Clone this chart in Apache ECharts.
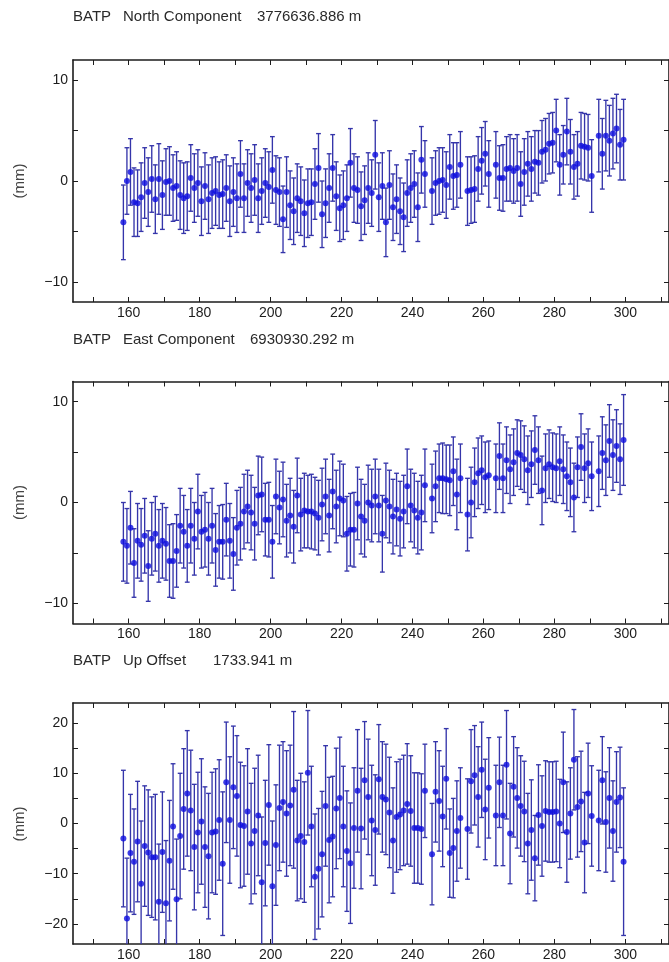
<!DOCTYPE html>
<html>
<head>
<meta charset="utf-8">
<title>BATP time series</title>
<script src="https://cdn.jsdelivr.net/npm/echarts@6.0.0/dist/echarts.min.js"></script>
<style>
  html, body { margin: 0; padding: 0; background: #fff; }
  #chart { width: 669px; height: 962px; }
</style>
</head>
<body>
<div id="chart"></div>
<script>
// day of year (solution epochs), gaps at 244.5, 254.5, 262.5, 291.5
const days = [
  158.5, 159.5, 160.5, 161.5, 162.5, 163.5, 164.5, 165.5, 166.5, 167.5,
  168.5, 169.5, 170.5, 171.5, 172.5, 173.5, 174.5, 175.5, 176.5, 177.5,
  178.5, 179.5, 180.5, 181.5, 182.5, 183.5, 184.5, 185.5, 186.5, 187.5,
  188.5, 189.5, 190.5, 191.5, 192.5, 193.5, 194.5, 195.5, 196.5, 197.5,
  198.5, 199.5, 200.5, 201.5, 202.5, 203.5, 204.5, 205.5, 206.5, 207.5,
  208.5, 209.5, 210.5, 211.5, 212.5, 213.5, 214.5, 215.5, 216.5, 217.5,
  218.5, 219.5, 220.5, 221.5, 222.5, 223.5, 224.5, 225.5, 226.5, 227.5,
  228.5, 229.5, 230.5, 231.5, 232.5, 233.5, 234.5, 235.5, 236.5, 237.5,
  238.5, 239.5, 240.5, 241.5, 242.5, 243.5,
  245.5, 246.5, 247.5, 248.5, 249.5, 250.5, 251.5, 252.5, 253.5,
  255.5, 256.5, 257.5, 258.5, 259.5, 260.5, 261.5,
  263.5, 264.5, 265.5, 266.5, 267.5, 268.5, 269.5, 270.5, 271.5, 272.5,
  273.5, 274.5, 275.5, 276.5, 277.5, 278.5, 279.5, 280.5, 281.5, 282.5,
  283.5, 284.5, 285.5, 286.5, 287.5, 288.5, 289.5, 290.5,
  292.5, 293.5, 294.5, 295.5, 296.5, 297.5, 298.5, 299.5
];

// North component (mm)
const northVal = [
  -4.1, 0.0, 0.9, -2.1, -2.2, -1.6, -0.2, -1.1, 0.2, -1.8,
  0.2, -1.4, -0.1, 0.0, -0.7, -0.5, -1.4, -1.7, -1.5, 0.3,
  -0.7, -0.2, -2.0, -0.5, -1.8, -1.2, -1.0, -1.4, -1.3, -0.7,
  -2.0, -1.1, -1.7, 0.7, -1.7, -0.2, -0.7, 0.1, -1.7, -1.0,
  -0.2, -0.6, 1.1, -0.9, -1.1, -3.8, -1.1, -2.4, -3.0, -1.7,
  -2.0, -3.2, -2.2, -2.1, -0.3, 1.3, -3.3, -2.2, -0.7, 1.3,
  -1.5, -2.7, -2.4, -1.7, 1.8, -0.7, -0.9, -2.5, -1.9, -0.7,
  -1.2, 2.6, -1.6, -0.5, -4.1, -0.4, -2.6, -1.8, -3.0, -3.6,
  -1.2, -0.7, -0.3, -2.6, 2.1, 0.7,
  -1.0, -0.2, 0.0, 0.1, -0.4, 1.4, 0.5, 0.6, 1.6,
  -1.0, -0.9, -0.8, 1.2, 2.0, 2.7, 0.7,
  1.6, 0.3, 0.3, 1.2, 1.3, 1.0, 1.3, -0.3, 0.9, 1.7,
  1.2, 1.9, 1.8, 2.9, 3.1, 3.7, 3.8, 5.0, 1.6, 2.6,
  4.9, 2.9, 1.4, 1.7, 3.5, 3.4, 3.3, 0.5,
  4.5, 2.7, 4.5, 4.0, 4.7, 5.2, 3.6, 4.1
];
const northSig = [
  3.7, 3.3, 3.3, 3.4, 3.3, 3.4, 3.5, 3.4, 3.3, 3.4,
  3.5, 3.4, 3.3, 3.4, 3.3, 3.4, 3.4, 3.5, 3.4, 3.3,
  3.4, 3.3, 3.4, 3.3, 3.4, 3.5, 3.4, 3.3, 3.4, 3.3,
  3.5, 3.4, 3.4, 3.3, 3.4, 3.3, 3.4, 3.5, 3.4, 3.3,
  3.4, 3.5, 3.3, 3.4, 3.4, 3.3, 3.5, 3.4, 3.3, 3.4,
  3.4, 3.3, 3.4, 3.3, 3.5, 3.4, 3.3, 3.4, 3.4, 3.3,
  3.4, 3.3, 3.4, 3.3, 3.4, 3.4, 3.3, 3.4, 3.4, 3.5,
  3.3, 3.4, 3.4, 3.3, 3.4, 3.4, 3.3, 3.4, 3.3, 3.4,
  3.3, 3.4, 3.3, 3.4, 3.3, 3.3,
  3.3, 3.2, 3.3, 3.2, 3.3, 3.2, 3.3, 3.2, 3.3,
  3.4, 3.3, 3.3, 3.2, 3.3, 3.2, 3.3,
  3.3, 3.2, 3.3, 3.2, 3.3, 3.2, 3.3, 3.2, 3.3, 3.2,
  3.2, 3.1, 3.2, 3.1, 3.1, 3.0, 3.0, 3.1, 3.0, 2.9,
  3.3, 3.2, 3.2, 3.2, 3.3, 3.3, 3.3, 3.6,
  3.6, 3.5, 3.5, 3.5, 3.5, 3.4, 3.5, 4.0
];

// East component (mm)
const eastVal = [
  -3.9, -4.3, -2.5, -6.0, -3.8, -4.2, -3.3, -6.3, -3.6, -3.1,
  -4.3, -3.8, -4.1, -5.8, -5.8, -4.8, -2.3, -2.9, -4.3, -2.3,
  -3.6, -0.9, -2.9, -2.7, -3.6, -2.3, -4.7, -3.9, -3.9, -1.7,
  -3.8, -5.1, -2.5, -2.1, -0.9, -0.4, -1.0, -2.1, 0.7, 0.8,
  -1.7, -1.7, -3.9, 0.6, -0.5, 0.3, -1.8, -1.3, -2.4, 0.7,
  -1.2, -0.8, -0.9, -0.9, -1.1, -1.5, -0.2, 0.6, -1.3, 1.1,
  -0.4, 0.4, 0.2, -3.1, -2.7, -2.7, -0.1, -1.4, -1.8, 0.0,
  -0.3, 0.6, -0.3, -3.1, 0.2, -0.4, -1.4, -0.7, -1.6, -0.9,
  1.6, -0.3, -0.8, -1.5, -1.0, 1.7,
  0.4, 1.6, 2.4, 2.4, 2.3, 2.2, 3.1, 0.8, 2.4,
  -1.2, 0.0, 2.0, 2.9, 3.2, 2.5, 2.7,
  2.4, 4.6, 2.4, 4.2, 3.3, 4.0, 4.9, 4.7, 4.3, 3.2,
  3.8, 5.2, 4.2, 1.2, 3.4, 3.8, 3.5, 3.4, 4.1, 3.3,
  2.6, 2.0, 0.5, 3.5, 5.5, 3.4, 3.9, 2.6,
  3.1, 4.9, 4.2, 6.1, 4.7, 5.6, 4.3, 6.2
];
const eastSig = [
  3.9, 3.7, 3.6, 3.4, 3.7, 3.6, 3.7, 3.5, 3.6, 3.7,
  3.6, 3.7, 3.6, 3.6, 3.7, 3.6, 3.7, 3.6, 3.6, 3.7,
  3.6, 3.7, 3.6, 3.7, 3.6, 3.7, 3.6, 3.6, 3.7, 3.6,
  3.7, 3.6, 3.7, 3.6, 3.7, 3.6, 3.7, 3.6, 3.9, 3.7,
  3.6, 3.7, 3.6, 3.7, 3.6, 3.7, 3.6, 3.7, 3.6, 3.7,
  3.6, 3.7, 3.6, 3.7, 3.6, 3.7, 3.6, 3.7, 3.6, 3.7,
  3.6, 3.7, 3.6, 3.7, 3.6, 3.7, 3.6, 3.7, 3.6, 3.7,
  3.6, 3.7, 3.6, 3.8, 3.7, 3.6, 3.7, 3.6, 3.7, 3.6,
  3.7, 3.6, 3.7, 3.6, 3.7, 3.6,
  3.4, 3.5, 3.4, 3.5, 3.4, 3.5, 3.4, 3.5, 3.4,
  3.6, 3.5, 3.4, 3.5, 3.4, 3.5, 3.4,
  3.4, 3.3, 3.4, 3.3, 3.4, 3.3, 3.3, 3.4, 3.3, 3.4,
  3.3, 3.4, 3.3, 3.4, 3.4, 3.4, 3.4, 3.4, 3.4, 3.4,
  3.4, 3.4, 3.4, 3.0, 3.3, 3.4, 3.4, 3.4,
  3.5, 3.6, 3.5, 3.6, 3.5, 3.6, 3.5, 4.5
];

// Up offset (mm)
const upVal = [
  -3.0, -18.9, -5.9, -7.6, -3.6, -12.0, -4.5, -5.8, -6.7, -6.7,
  -15.6, -5.7, -15.9, -7.4, -0.6, -15.1, -2.5, 2.9, 6.0, 2.6,
  -4.7, -1.8, 0.4, -4.7, -6.5, -1.8, -1.6, 0.7, -8.0, 8.2,
  0.7, 7.2, 5.5, -0.3, -0.5, 2.4, -4.0, -1.5, 1.6, -11.7,
  -3.9, 3.7, -12.5, -4.3, 3.1, 4.3, 2.0, 3.6, 6.7, -3.4,
  -2.5, -3.7, 10.1, -0.6, -10.6, -9.0, -6.1, 3.5, -3.3, -2.6,
  3.0, 5.1, -0.6, -5.5, -7.9, -0.9, 6.5, -1.0, 8.6, 5.3,
  0.6, -1.3, 8.8, 5.3, 4.8, 2.2, -3.4, 1.3, 1.8, 2.6,
  3.9, 2.5, -0.9, -0.9, -1.1, 6.5,
  -6.1, 6.3, 4.5, 1.4, 8.9, -5.9, -4.9, -1.5, 1.1,
  -1.1, 8.4, 9.6, 5.3, 10.7, 2.8, 7.1,
  1.6, 8.2, 1.6, 11.7, -2.0, 7.3, 5.1, 3.5, 2.4, -4.0,
  -1.3, -6.9, 1.7, -0.5, 2.5, 2.3, 2.3, 2.4, 0.0, 8.2,
  -1.7, 2.0, 12.7, 3.3, 4.4, -3.8, 6.0, 1.5,
  0.6, 8.6, 0.3, 5.1, -1.5, 4.3, 5.2, -7.6
];
const upSig = [
  13.6, 12.0, 11.7, 10.5, 12.0, 12.5, 12.0, 12.5, 12.0, 12.5,
  11.5, 12.0, 12.5, 12.0, 12.5, 12.0, 12.5, 12.0, 12.5, 12.0,
  12.5, 12.0, 12.5, 12.0, 12.5, 12.0, 12.5, 12.0, 14.3, 12.0,
  12.6, 12.2, 12.0, 12.5, 12.0, 12.5, 12.0, 12.5, 12.0, 13.0,
  12.5, 12.0, 13.0, 12.0, 12.5, 12.0, 12.5, 12.0, 15.6, 12.0,
  12.5, 12.0, 12.4, 12.0, 12.5, 12.0, 12.5, 12.0, 12.5, 12.0,
  12.0, 12.1, 12.0, 12.0, 12.0, 12.0, 12.2, 12.0, 11.7, 11.5,
  11.0, 11.0, 10.9, 11.0, 11.0, 11.0, 10.5, 11.0, 11.0, 11.0,
  12.0, 11.0, 11.0, 11.0, 11.0, 9.3,
  10.1, 10.0, 10.0, 10.0, 10.0, 8.8, 9.9, 10.0, 10.0,
  10.0, 10.3, 9.9, 10.0, 9.5, 10.0, 10.0,
  10.0, 9.0, 10.0, 10.8, 10.0, 10.0, 10.0, 10.0, 10.0, 10.0,
  10.0, 8.5, 10.0, 10.0, 10.0, 10.0, 10.0, 10.0, 8.8, 10.0,
  10.0, 9.1, 10.0, 10.0, 10.0, 10.0, 10.0, 10.0,
  10.0, 8.7, 10.0, 10.0, 10.0, 10.0, 10.0, 14.7
];

// axis ticks and labels
const xTicks = [150, 160, 170, 180, 190, 200, 210, 220, 230, 240, 250, 260, 270, 280, 290, 300, 310];
const xLabels = [160, 180, 200, 220, 240, 260, 280, 300];
const smallTicks = [-10, -5, 0, 5, 10];
const smallLabels = [-10, 0, 10];
const upTicks = [-20, -15, -10, -5, 0, 5, 10, 15, 20];
const upLabels = [-20, -10, 0, 10, 20];

const FONT = '"Liberation Sans", Arial, Helvetica, sans-serif';
const INK = '#1c1c1c';
const BAR_COLOR = '#3535aa';
const DOT_COLOR = '#0c0ce0';
const X_MIN = 144.3;
const X_MAX = 312.3;
const CAP = 2.4;

const panels = [
  { top: 60, val: northVal, sig: northSig, yMin: -12, yMax: 12, ticks: smallTicks, labels: smallLabels,
    title: ['BATP', 'North Component', '3776636.886 m'], titleX: [73, 123, 257], titleY: 17 },
  { top: 381.5, val: eastVal, sig: eastSig, yMin: -12, yMax: 12, ticks: smallTicks, labels: smallLabels,
    title: ['BATP', 'East Component', '6930930.292 m'], titleX: [73, 123, 250], titleY: 340 },
  { top: 703, val: upVal, sig: upSig, yMin: -24, yMax: 24, ticks: upTicks, labels: upLabels,
    title: ['BATP', 'Up Offset', '1733.941 m'], titleX: [73, 123, 213], titleY: 660.5 }
];
const PANEL_H = 242;

const fmtMinus = v => (v < 0 ? '\u2212' + Math.abs(v) : String(v));

const axisLine = { show: true, onZero: false, lineStyle: { color: INK, width: 1.6 } };

function renderBar(params, api) {
  const cs = params.coordSys;
  const top = api.coord([api.value(0), api.value(2)]);
  const bot = api.coord([api.value(0), api.value(1)]);
  const yTop = Math.max(top[1], cs.y);
  const yBot = Math.min(bot[1], cs.y + cs.height);
  const x = top[0];
  const style = { stroke: BAR_COLOR, lineWidth: 1.35 };
  const kids = [{ type: 'line', shape: { x1: x, y1: yTop, x2: x, y2: yBot }, style }];
  if (top[1] >= cs.y) {
    kids.push({ type: 'line', shape: { x1: x - CAP, y1: top[1], x2: x + CAP, y2: top[1] }, style });
  }
  if (bot[1] <= cs.y + cs.height) {
    kids.push({ type: 'line', shape: { x1: x - CAP, y1: bot[1], x2: x + CAP, y2: bot[1] }, style });
  }
  return { type: 'group', children: kids };
}

const grid = [], xAxis = [], yAxis = [], series = [], graphic = [];

panels.forEach((p, i) => {
  grid.push({ left: 73, right: -1, top: p.top, height: PANEL_H });

  const xBase = {
    type: 'value', gridIndex: i, min: X_MIN, max: X_MAX,
    axisLine, splitLine: { show: false },
    axisTick: { show: true, inside: true, length: 5, customValues: xTicks, lineStyle: { color: INK, width: 1 } }
  };
  xAxis.push(Object.assign({}, xBase, {
    position: 'bottom',
    axisLabel: { show: true, customValues: xLabels, fontSize: 14, color: INK, margin: 4, fontFamily: FONT }
  }));
  xAxis.push(Object.assign({}, xBase, { position: 'top', axisLabel: { show: false } }));

  const yBase = {
    type: 'value', gridIndex: i, min: p.yMin, max: p.yMax,
    axisLine, splitLine: { show: false },
    axisTick: { show: true, inside: true, length: 5, customValues: p.ticks, lineStyle: { color: INK, width: 1 } }
  };
  yAxis.push(Object.assign({}, yBase, {
    position: 'left',
    axisLabel: { show: true, customValues: p.labels, fontSize: 14, color: INK, margin: 5, fontFamily: FONT, formatter: fmtMinus }
  }));
  yAxis.push(Object.assign({}, yBase, { position: 'right', axisLabel: { show: false } }));

  const bars = days.map((d, k) => [d, p.val[k] - p.sig[k], p.val[k] + p.sig[k]]);
  const dots = days.map((d, k) => [d, p.val[k]]);

  series.push({
    type: 'custom', xAxisIndex: i * 2, yAxisIndex: i * 2,
    renderItem: renderBar, data: bars, encode: { x: 0, y: [1, 2] },
    silent: true, animation: false, z: 2
  });
  series.push({
    type: 'scatter', xAxisIndex: i * 2, yAxisIndex: i * 2,
    data: dots, symbol: 'circle', symbolSize: 6,
    itemStyle: { color: DOT_COLOR }, silent: true, animation: false, z: 3
  });

  p.title.forEach((t, j) => {
    graphic.push({
      type: 'text', x: p.titleX[j], y: p.titleY,
      style: { text: t, font: '15px ' + FONT, fill: '#2a2a2a', verticalAlign: 'middle', align: 'left' }
    });
  });
  graphic.push({
    type: 'text', x: 20, y: p.top + PANEL_H / 2, rotation: Math.PI / 2,
    style: { text: '(mm)', font: '15px ' + FONT, fill: '#444', verticalAlign: 'middle', align: 'center' }
  });
});

const chart = echarts.init(document.getElementById('chart'), null, { renderer: 'canvas' });
chart.setOption({
  backgroundColor: '#ffffff',
  animation: false,
  grid, xAxis, yAxis, series, graphic
});
</script>
</body>
</html>
